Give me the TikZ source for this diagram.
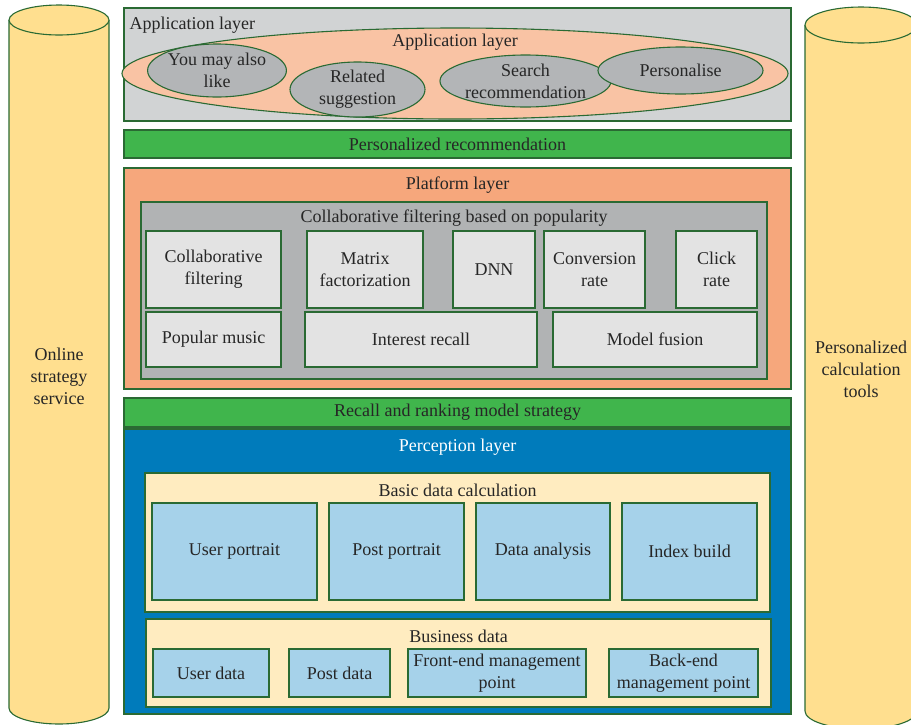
\documentclass[tikz,border=0pt]{standalone}
\usepackage{fontspec}
\setmainfont{Liberation Serif}
\usetikzlibrary{shapes.geometric}

\definecolor{edgegreen}{HTML}{2A6A33}
\definecolor{appgray}{HTML}{D1D3D4}
\definecolor{salmon}{HTML}{F9C3A4}
\definecolor{ellgray}{HTML}{B3B5B7}
\definecolor{bargreen}{HTML}{40B54C}
\definecolor{platorange}{HTML}{F6A77C}
\definecolor{midgray}{HTML}{B1B3B4}
\definecolor{cellgray}{HTML}{E3E3E3}
\definecolor{percblue}{HTML}{007BBB}
\definecolor{cream}{HTML}{FFECC0}
\definecolor{skyblue}{HTML}{A6D2EA}
\definecolor{cylyellow}{HTML}{FFDF8F}

\tikzset{
    every node/.style={font=\fontsize{18}{22}\selectfont, align=center, text=black!85},
    frame/.style={draw=edgegreen, line width=1.1pt, inner sep=0pt},
    layer/.style={frame, fill=#1},
    cell/.style={frame, fill=cellgray},
    datacell/.style={frame, fill=skyblue},
    bar/.style={frame, fill=bargreen, minimum width=667pt, minimum height=28pt},
    oval/.style={frame, ellipse, fill=ellgray},
    cyl/.style={draw=edgegreen, line width=1.1pt, fill=cylyellow}
}

\begin{document}
\begin{tikzpicture}[x=1pt, y=-1pt]
    \useasboundingbox (0,0) rectangle (911,724);

    \draw[cyl] (9,20) -- (9,708) arc[start angle=180, end angle=0, x radius=50, y radius=16] -- (109,20);
    \draw[cyl] (59,20) ellipse [x radius=50, y radius=15];
    \node (online) at (59,376) {Online\\strategy\\service};

    \draw[cyl] (805,25) -- (805,711) arc[start angle=180, end angle=0, x radius=56, y radius=18] -- (917,25);
    \draw[cyl] (861,25) ellipse [x radius=56, y radius=18];
    \node (tools) at (861,369) {Personalized\\calculation\\tools};

    \node[layer=appgray, minimum width=667pt, minimum height=113pt] (app) at (457.5,64.5) {};
    \node[anchor=west] (apptitle) at (126,25) {Application layer};
    \node[frame, ellipse, fill=salmon, minimum width=666pt, minimum height=91pt] (appell) at (455,73.5) {};
    \node (appelltitle) at (455,42) {Application layer};
    \node[oval, minimum width=134pt, minimum height=53pt] (like) at (217,70.5) {You may also\\like};
    \node[oval, minimum width=135pt, minimum height=55pt] (related) at (357.5,89.5) {Related\\suggestion};
    \node[oval, minimum width=165pt, minimum height=52pt] (search) at (525.5,81) {Search\\recommendation};
    \node[oval, minimum width=165pt, minimum height=47pt] (personalise) at (680.5,70.5) {Personalise};

    \node[bar] (persrec) at (457.5,144) {Personalized recommendation};

    \node[layer=platorange, minimum width=667pt, minimum height=221pt] (plat) at (457.5,278.5) {};
    \node (plattitle) at (457.5,185) {Platform layer};
    \node[layer=midgray, minimum width=626pt, minimum height=177pt] (popular) at (454,290.5) {};
    \node (populartitle) at (454,218) {Collaborative filtering based on popularity};
    \node[cell, minimum width=135pt, minimum height=77pt] (cf) at (213.5,269.5) {Collaborative\\filtering};
    \node[cell, minimum width=116pt, minimum height=77pt] (mf) at (365,269.5) {Matrix\\factorization};
    \node[cell, minimum width=82pt, minimum height=77pt] (dnn) at (494,269.5) {DNN};
    \node[cell, minimum width=101pt, minimum height=77pt] (conv) at (594.5,269.5) {Conversion\\rate};
    \node[cell, minimum width=81pt, minimum height=77pt] (click) at (716.5,269.5) {Click\\rate};
    \node[cell, minimum width=135pt, minimum height=55pt] (music) at (213.5,339.5) {Popular music};
    \node[cell, minimum width=232pt, minimum height=55pt] (interest) at (421,339.5) {Interest recall};
    \node[cell, minimum width=204pt, minimum height=55pt] (fusion) at (655,339.5) {Model fusion};

    \node[bar, minimum height=29pt] (ranking) at (457.5,412.5) {Recall and ranking model strategy};

    \node[layer=percblue, minimum width=667pt, minimum height=285pt] (perc) at (457.5,571.5) {};
    \node[text=white] (perctitle) at (457.5,447) {Perception layer};
    \node[layer=cream, minimum width=625pt, minimum height=139pt] (basic) at (457.5,542.5) {};
    \node (basictitle) at (457.5,490) {Basic data calculation};
    \node[datacell, minimum width=165pt, minimum height=97pt] (userport) at (234.5,551.5) {User portrait};
    \node[datacell, minimum width=135pt, minimum height=97pt] (postport) at (396.5,551.5) {Post portrait};
    \node[datacell, minimum width=134pt, minimum height=97pt] (analysis) at (543,551.5) {Data analysis};
    \node[datacell, minimum width=135pt, minimum height=97pt] (index) at (689.5,551.5) {Index build};
    \node[layer=cream, minimum width=625pt, minimum height=88pt] (business) at (458.5,663) {};
    \node (businesstitle) at (458.5,636) {Business data};
    \node[datacell, minimum width=116pt, minimum height=48pt] (userdata) at (211,673) {User data};
    \node[datacell, minimum width=101pt, minimum height=48pt] (postdata) at (339.5,673) {Post data};
    \node[datacell, minimum width=178pt, minimum height=48pt] (frontend) at (497,673) {Front-end management\\point};
    \node[datacell, minimum width=149pt, minimum height=48pt] (backend) at (683.5,673) {Back-end\\management point};

\end{tikzpicture}
\end{document}
